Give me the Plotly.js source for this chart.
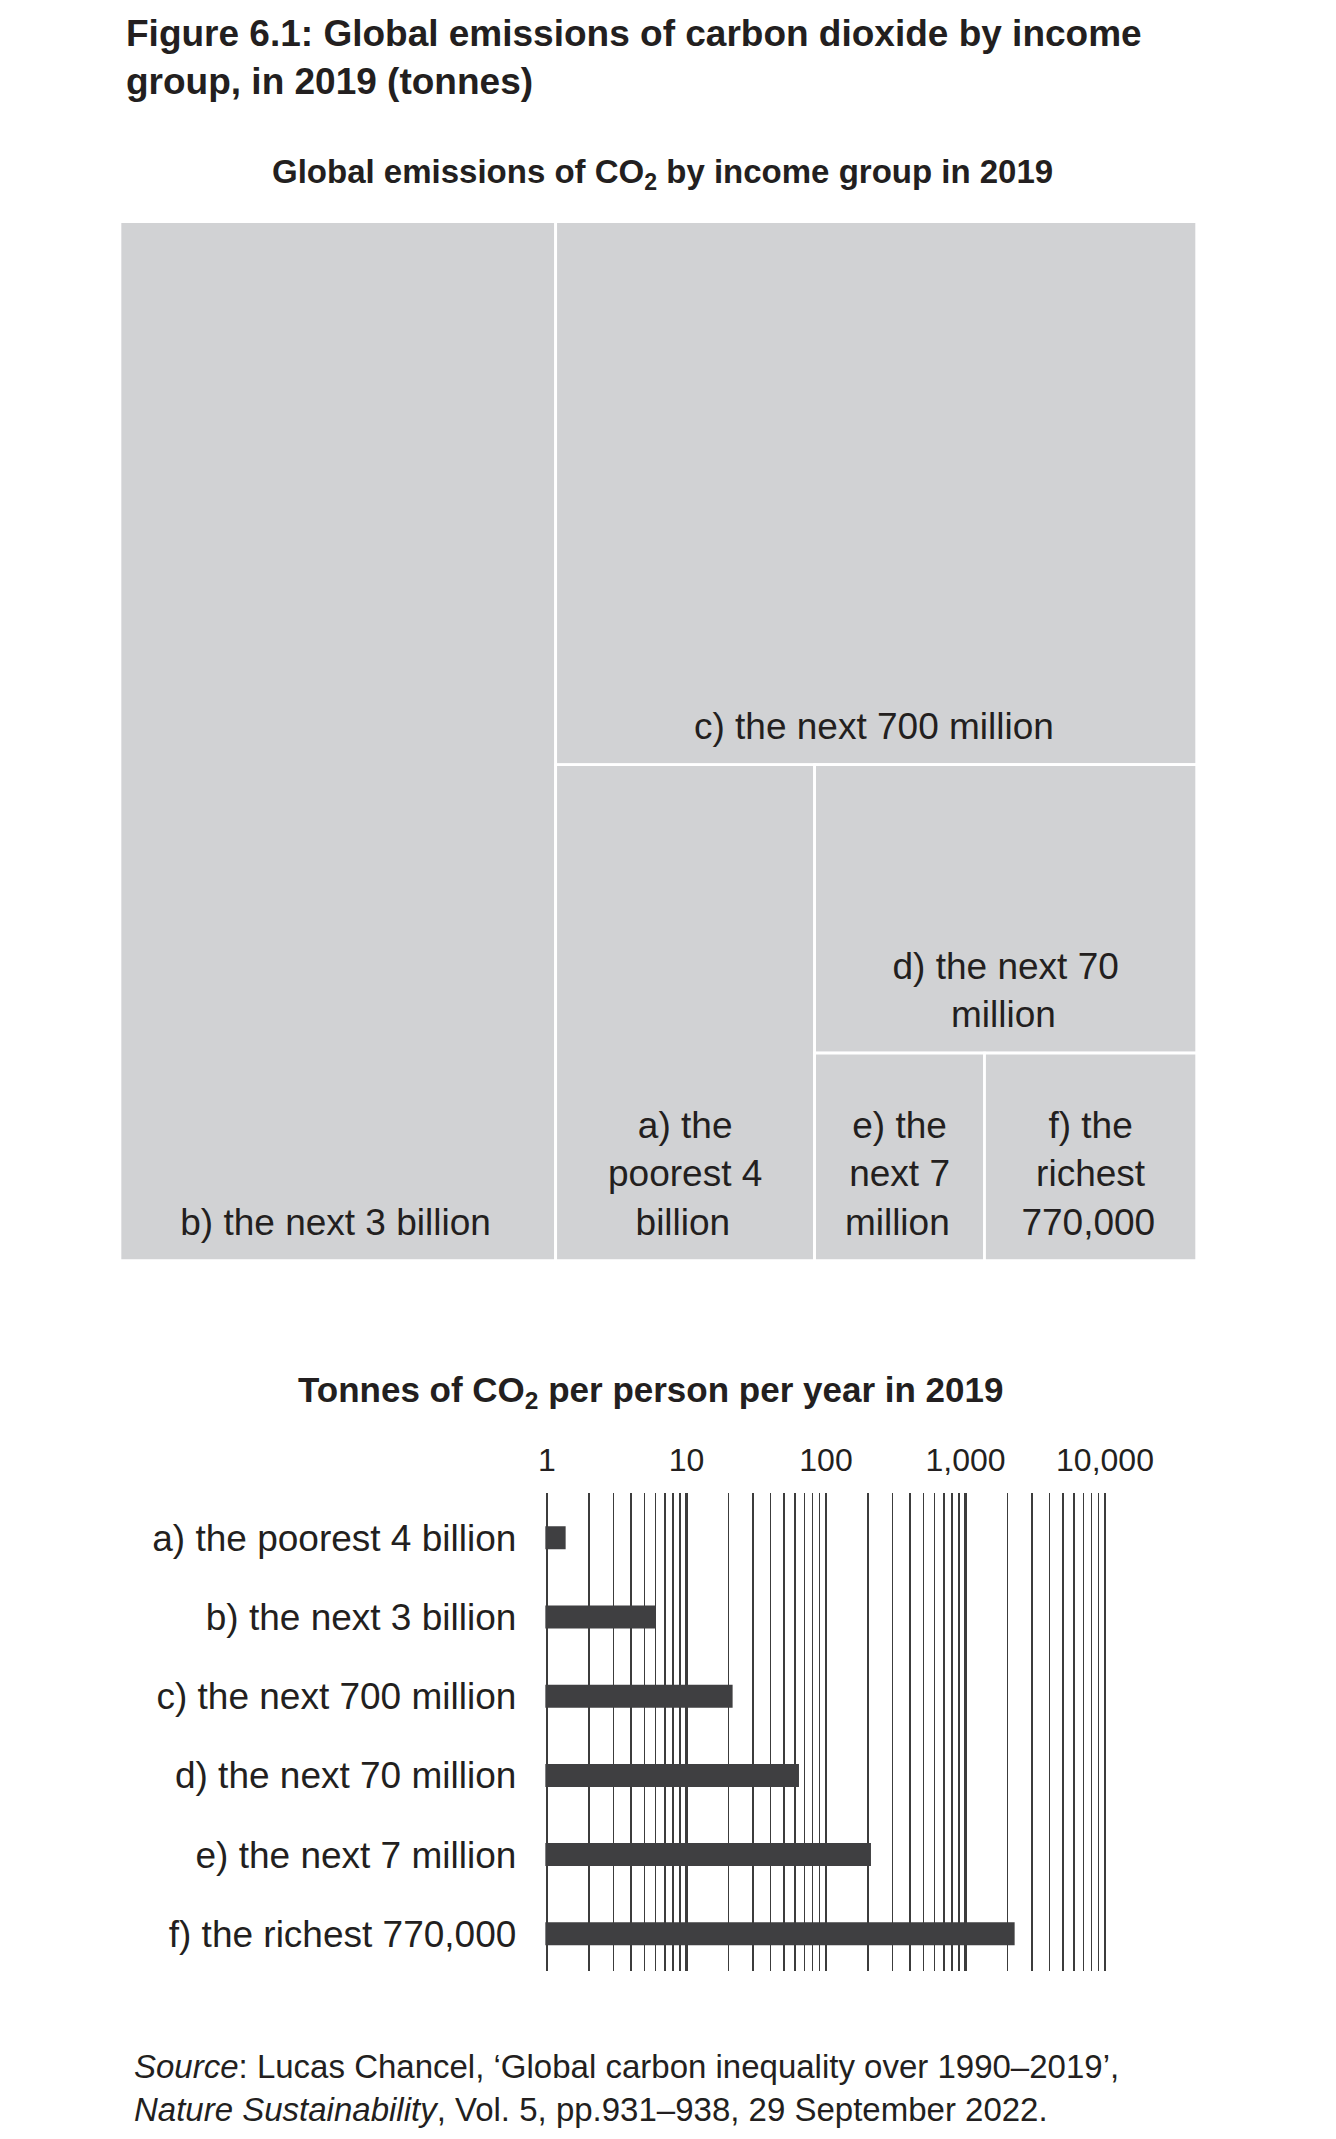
<!DOCTYPE html>
<html>
<head>
<meta charset="utf-8">
<script src="https://cdn.plot.ly/plotly-3.0.1.min.js"></script>
<style>
  html, body { margin: 0; padding: 0; background: #fff; }
  #chart { width: 1336px; height: 2139px; }
</style>
</head>
<body>
<div id="chart"></div>
<script>
// income groups, poorest first
var groups = [
  'a) the poorest 4 billion',
  'b) the next 3 billion',
  'c) the next 700 million',
  'd) the next 70 million',
  'e) the next 7 million',
  'f) the richest 770,000'
];

// wrapped names as printed inside the treemap cells
var cellLabels = [
  'a) the<br>poorest 4<br>billion',
  'b) the next 3 billion',
  'c) the next 700 million',
  'd) the next 70<br>million',
  'e) the<br>next 7<br>million',
  'f) the<br>richest<br>770,000'
];

// total emissions per group, tonnes
var totalEmissions = [5.28e9, 18.62e9, 14.32e9, 4.53e9, 1.45e9, 1.81e9];

// tonnes of CO2 per person per year
var perPerson = [1.36, 6.0, 21.4, 64, 210, 2250];

// x axis ticks of the bar chart
var tickVals = [1, 10, 100, 1000, 10000];
var tickText = ['1', '10', '100', '1,000', '10,000'];

// order in which the treemap peels groups off (b, c, a, d, then e|f)
var splitOrder = [1, 2, 0, 3, 4, 5];

var FONT = 'Arial, "Liberation Sans", Helvetica, sans-serif';
var INK = '#231f20';
var CELL = '#d1d2d4';
var BAR = '#3f3f41';
var GRID = '#3c3c3c';

// tall, narrow, invisible blank at the end of the last line: lifts the label off the cell bottom
var LIFT = '<span style="font-size:110px;letter-spacing:-26px;fill-opacity:0"> </span>';

// nested hierarchy so slice-dice alternates the splits like the original
var ids = [], parents = [], values = [], texts = [];
var parent = '';
splitOrder.forEach(function (g, k) {
  ids.push(groups[g]);
  parents.push(parent);
  values.push(totalEmissions[g]);
  texts.push(cellLabels[g] + LIFT);
  if (k < splitOrder.length - 2) {
    var box = 'rest' + k;
    ids.push(box);
    parents.push(parent);
    values.push(0);
    texts.push('');
    parent = box;
  }
});

var treemap = {
  type: 'treemap',
  ids: ids,
  labels: ids,
  parents: parents,
  values: values,
  text: texts,
  texttemplate: '%{text}',
  textposition: 'bottom center',
  textfont: { family: FONT, size: 37, color: INK },
  sort: false,
  hoverinfo: 'none',
  pathbar: { visible: false },
  tiling: { packing: 'slice-dice', pad: 0 },
  marker: {
    colors: ids.map(function () { return CELL; }),
    line: { color: '#ffffff', width: 2.7 },
    pad: { t: 0, l: 0, r: 0, b: 0 }
  },
  domain: { x: [0.0898, 0.8957], y: [0.4107, 0.8964] }
};

var bars = {
  type: 'bar',
  orientation: 'h',
  x: perPerson,
  y: groups,
  xaxis: 'x',
  yaxis: 'y',
  marker: { color: BAR },
  hoverinfo: 'none'
};

var layout = {
  width: 1336,
  height: 2139,
  margin: { l: 0, r: 0, t: 0, b: 0 },
  paper_bgcolor: '#ffffff',
  plot_bgcolor: '#ffffff',
  showlegend: false,
  font: { family: FONT, color: INK },
  bargap: 0.71,
  title: {
    text: '<b>Figure 6.1: Global emissions of carbon dioxide by income<br>group, in 2019 (tonnes)</b>',
    font: { family: FONT, size: 37, color: INK },
    x: 126 / 1336,
    xanchor: 'left',
    xref: 'paper',
    yref: 'container',
    y: 1 - 46 / 2139,
    yanchor: 'top'
  },
  xaxis: {
    type: 'log',
    domain: [0.40819, 0.82836],
    range: [-0.012, 4.012],
    side: 'top',
    tickmode: 'array',
    tickvals: tickVals,
    ticktext: tickText,
    ticks: '',
    ticklabelstandoff: 14,
    tickfont: { family: FONT, size: 32, color: INK },
    showgrid: true,
    gridcolor: GRID,
    gridwidth: 2.4,
    minor: { tickmode: 'linear', dtick: 'D1', showgrid: true, gridcolor: GRID, gridwidth: 1.4, ticks: '' },
    zeroline: false,
    showline: false,
    fixedrange: true
  },
  yaxis: {
    type: 'category',
    domain: [0.07854, 0.30215],
    categoryorder: 'array',
    categoryarray: groups,
    range: [5.47, -0.57],
    ticks: '',
    ticklabelstandoff: 28,
    tickfont: { family: FONT, size: 37, color: INK },
    showgrid: false,
    zeroline: false,
    showline: false,
    fixedrange: true
  },
  annotations: [
    {
      text: '<b>Global emissions of CO<sub>2</sub> by income group in 2019</b>',
      xref: 'paper', yref: 'paper',
      x: 662 / 1336, y: 1 - 174 / 2139,
      xanchor: 'center', yanchor: 'middle',
      showarrow: false,
      font: { family: FONT, size: 33, color: INK }
    },
    {
      text: '<b>Tonnes of CO<sub>2</sub> per person per year in 2019</b>',
      xref: 'paper', yref: 'paper',
      x: 650 / 1336, y: 1 - 1392 / 2139,
      xanchor: 'center', yanchor: 'middle',
      showarrow: false,
      font: { family: FONT, size: 35, color: INK }
    },
    {
      text: '<i>Source</i>: Lucas Chancel, \u2018Global carbon inequality over 1990\u20132019\u2019,<br>' +
            '<i>Nature Sustainability</i>, Vol. 5, pp.931\u2013938, 29 September 2022.',
      xref: 'paper', yref: 'paper',
      x: 132 / 1336, y: 1 - 2088 / 2139,
      xanchor: 'left', yanchor: 'middle', align: 'left',
      showarrow: false,
      font: { family: FONT, size: 33, color: INK }
    }
  ]
};

Plotly.newPlot('chart', [treemap, bars], layout, { displayModeBar: false, staticPlot: true });
</script>
</body>
</html>
